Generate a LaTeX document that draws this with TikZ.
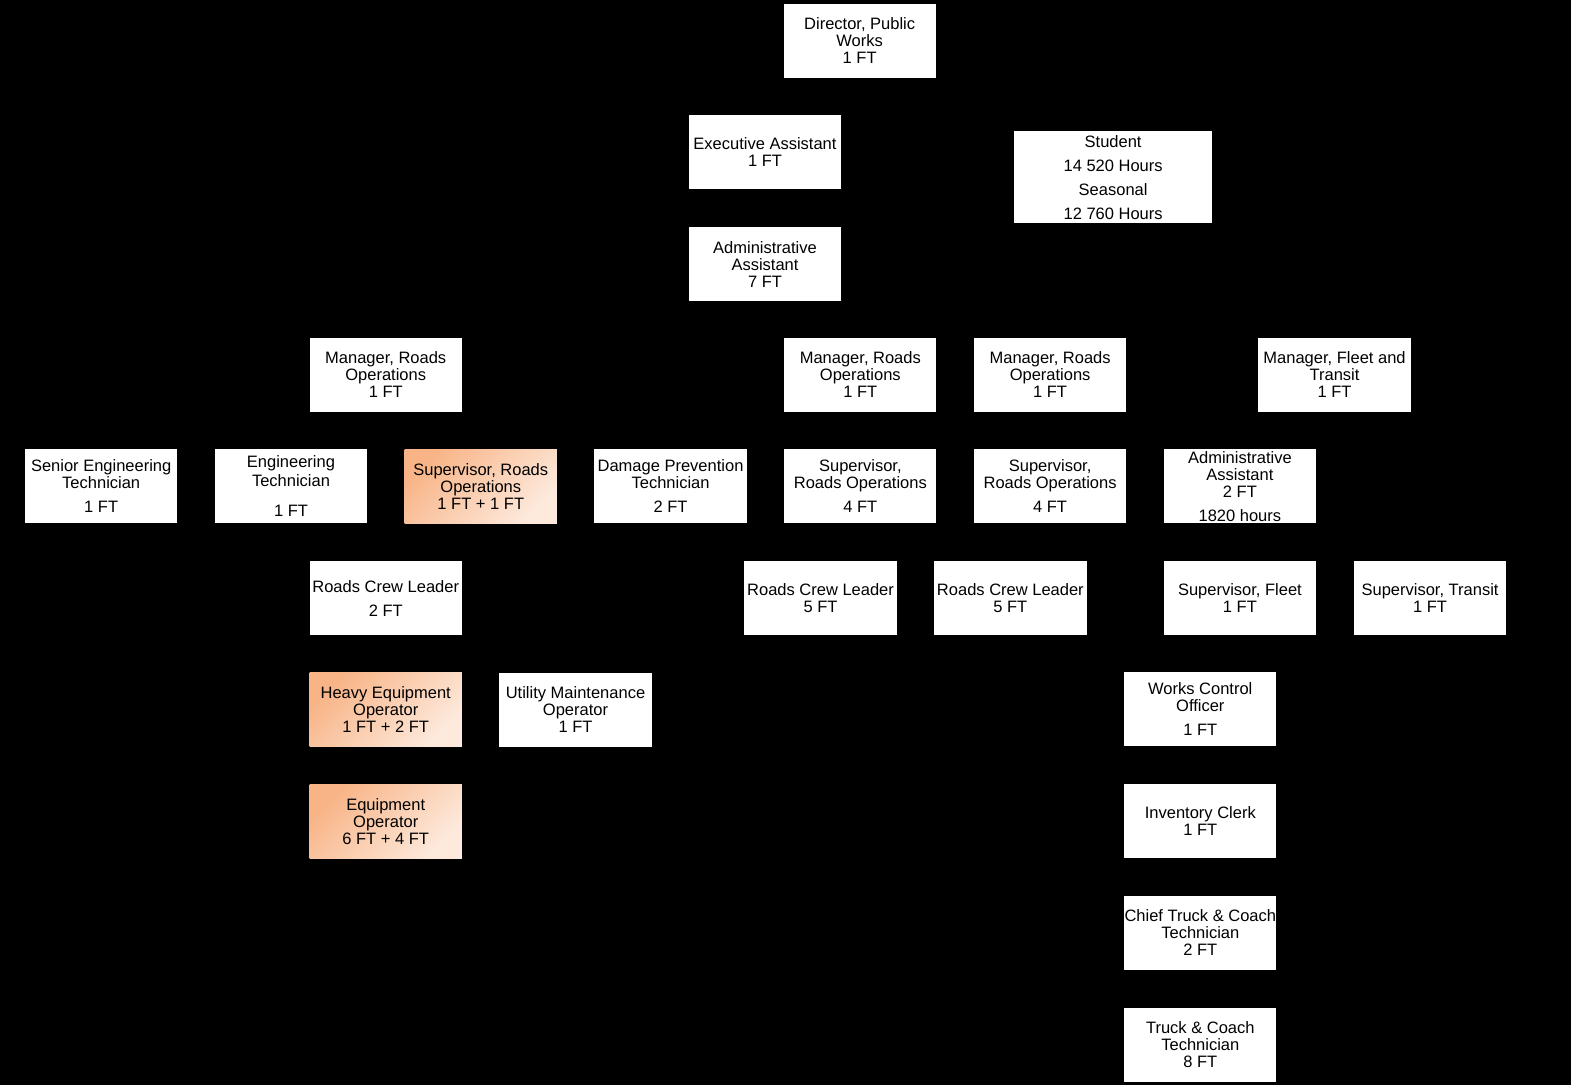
\documentclass[tikz,border=0pt]{standalone}
\usepackage{fontspec}
\setmainfont{Liberation Sans}
\usetikzlibrary{positioning}
\definecolor{peachdark}{RGB}{248,180,135}
\definecolor{peachlight}{RGB}{253,234,221}
\begin{document}
\begin{tikzpicture}[x=1.002pt, y=-1.002pt, node distance=37.4pt and 37.1pt,
  box/.style={fill=white, minimum width=152.3pt, minimum height=74pt, inner sep=0pt,
    align=center, font=\fontsize{16.5}{17}\selectfont},
  hot/.style={box, top color=peachdark, bottom color=peachlight, shading angle=45}]
\fill[black] (0,0) rectangle (1568,1083);
% top of the chart
\node[box] (dir) at (858,40.5) {Director, Public\\Works\\1 FT};
\node[box] (exec) at (763.5,152) {Executive Assistant\\1 FT};
\node[box, minimum width=198pt, minimum height=92pt, font=\fontsize{16.5}{24}\selectfont]
  (stud) at (1111,177) {Student\\14 520 Hours\\Seasonal\\12 760 Hours};
\node[box, below=of exec] (adm7) {Administrative\\Assistant\\7 FT};
% supervisors row
\node[box] (senior) at (101,485.5) {Senior Engineering\\Technician\\[7pt]1 FT};
\node[box, right=of senior] (engt) {Engineering\\[2pt]Technician\\[13pt]1 FT};
\node[hot, right=of engt] (supw) {Supervisor, Roads\\Operations\\1 FT + 1 FT};
\node[box, right=of supw] (dmg) {Damage Prevention\\Technician\\[7pt]2 FT};
\node[box, right=of dmg] (supc) {Supervisor,\\Roads Operations\\[7pt]4 FT};
\node[box, right=of supc] (supe) {Supervisor,\\Roads Operations\\[7pt]4 FT};
\node[box, right=of supe] (adm2) {Administrative\\Assistant\\2 FT\\[7pt]1820 hours};
% managers row
\node[box] (mgrw) at (385,374) {Manager, Roads\\Operations\\1 FT};
\node[box, above=of supc] (mgrc) {Manager, Roads\\Operations\\1 FT};
\node[box, above=of supe] (mgre) {Manager, Roads\\Operations\\1 FT};
\node[box] (mgrf) at (1332,374) {Manager, Fleet and\\Transit\\1 FT};
% crew leaders and fleet
\node[box] (crww) at (385,597) {Roads Crew Leader\\[7pt]2 FT};
\node[box] (crwc) at (819,597) {Roads Crew Leader\\5 FT};
\node[box, right=of crwc] (crwe) {Roads Crew Leader\\5 FT};
\node[box, below=of adm2] (supf) {Supervisor, Fleet\\1 FT};
\node[box, right=37.5pt of supf] (supt) {Supervisor, Transit\\1 FT};
% operators
\node[hot, below=of crww] (heavy) {Heavy Equipment\\Operator\\1 FT + 2 FT};
\node[box, right=of heavy] (util) {Utility Maintenance\\Operator\\1 FT};
\node[hot, below=of heavy] (equip) {Equipment\\Operator\\6 FT + 4 FT};
% fleet staff
\node[box] (wco) at (1198,708) {Works Control\\Officer\\[7pt]1 FT};
\node[box, below=of wco] (inv) {Inventory Clerk\\1 FT};
\node[box, below=of inv] (chief) {Chief Truck \& Coach\\Technician\\2 FT};
\node[box, below=of chief] (truck) {Truck \& Coach\\Technician\\8 FT};
\end{tikzpicture}
\end{document}
